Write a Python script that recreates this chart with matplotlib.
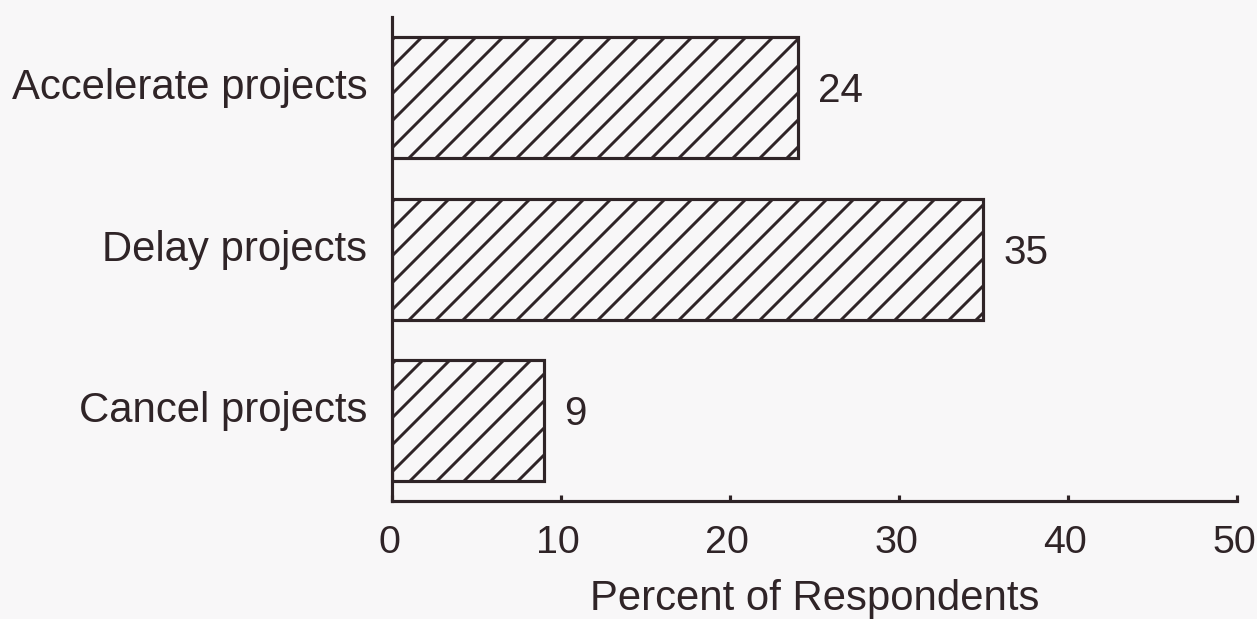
import matplotlib
matplotlib.use("Agg")
import matplotlib.pyplot as plt
from matplotlib.transforms import ScaledTranslation

# Survey responses
categories = ["Cancel projects", "Delay projects", "Accelerate projects"]
percents = [9, 35, 24]
xticks = [0, 10, 20, 30, 40, 50]

INK = "#2f2427"
BG = "#f8f7f8"
DPI = 162

plt.rcParams["font.family"] = ["Liberation Sans", "DejaVu Sans"]
plt.rcParams["hatch.linewidth"] = 1.3
plt.rcParams["hatch.color"] = INK

fig = plt.figure(figsize=(1257 / DPI, 619 / DPI), dpi=DPI, facecolor=BG)
ax = fig.add_axes([392 / 1257, 1 - 501 / 619, (1237 - 392) / 1257, (501 - 17) / 619])
ax.set_facecolor(BG)

ypos = list(range(len(categories)))
bars = ax.barh(ypos, percents, height=0.75, color="none", edgecolor=INK,
               linewidth=1.4, hatch="//")

for y, v in zip(ypos, percents):
    ax.text(v + 1.2, y + 0.04, f"{v}", va="center", ha="left",
            fontsize=18, color=INK)

ax.set_xlim(0, 50)
ax.set_ylim(-0.5, 2.5)
ax.set_xticks(xticks)
ax.set_xticklabels([str(t) for t in xticks])
ax.set_yticks(ypos)
ax.set_yticklabels(categories)

for s in ["top", "right"]:
    ax.spines[s].set_visible(False)
for s in ["left", "bottom"]:
    ax.spines[s].set_color(INK)
    ax.spines[s].set_linewidth(1.4)

ax.tick_params(axis="x", direction="in", length=2.8, width=1.4, color=INK,
               labelsize=17.5, labelcolor=INK, pad=10.5)
ax.tick_params(axis="y", length=0, labelsize=18.6, labelcolor=INK, pad=11)

# nudge tick labels: x labels slightly left, category labels slightly up
shift_x = ScaledTranslation(-3 / DPI, 0, fig.dpi_scale_trans)
shift_y = ScaledTranslation(0, 14 / DPI, fig.dpi_scale_trans)
for lbl in ax.get_xticklabels():
    lbl.set_transform(lbl.get_transform() + shift_x)
for lbl in ax.get_yticklabels():
    lbl.set_transform(lbl.get_transform() + shift_y)

ax.set_xlabel("Percent of Respondents", fontsize=18.6, color=INK, labelpad=8)

fig.savefig("out.png", dpi=DPI, facecolor=BG)
